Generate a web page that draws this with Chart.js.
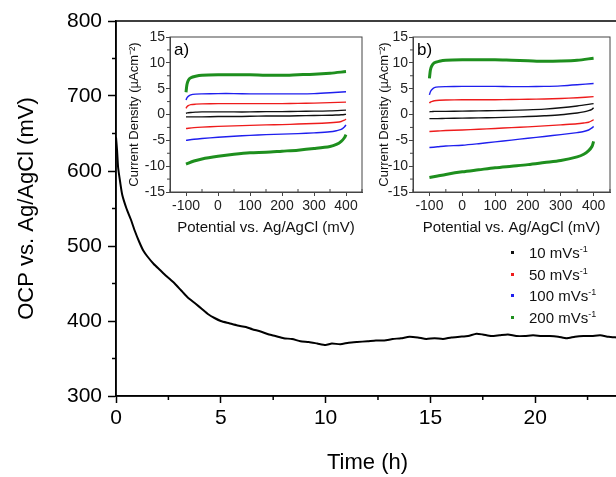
<!DOCTYPE html>
<html>
<head>
<meta charset="utf-8">
<script src="https://cdn.jsdelivr.net/npm/chart.js@4.4.1/dist/chart.umd.min.js"></script>
<style>
  html, body { margin: 0; padding: 0; background: #fff; overflow: hidden; width: 616px; height: 477px; }
  canvas { position: absolute; }
  #main { left: 0; top: 0; }
  #insetA { left: 120px; top: 20px; }
  #insetB { left: 370px; top: 20px; }
  .legend { position: absolute; left: 506px; top: 242px; font: 15px "Liberation Sans", Arial, sans-serif; color: #111; }
  .legend div { height: 21.7px; line-height: 21.7px; white-space: nowrap; }
  .legend span.m { display: inline-block; width: 3px; height: 3px; margin: 0 15px 3px 5px; vertical-align: middle; }
  .legend sup { font-size: 9px; vertical-align: 6px; line-height: 0; }
</style>
</head>
<body>
<canvas id="main" width="640" height="477"></canvas>
<canvas id="insetA" width="250" height="220"></canvas>
<canvas id="insetB" width="246" height="220"></canvas>
<div class="legend" id="legend"></div>
<script>
// main OCP curve
const hours = [0, 0.05, 0.1, 0.2, 0.3, 0.5, 0.7, 0.9, 1.1, 1.3, 1.5, 1.8, 2.1, 2.4, 2.8, 3.1, 3.4, 3.8, 4.1, 4.4, 4.7, 5.0, 5.4, 5.8, 6.2, 6.5, 6.9, 7.3, 7.6, 8.0, 8.4, 8.8, 9.2, 9.6, 10.0, 10.3, 10.7, 11.1, 11.5, 12.0, 12.4, 12.8, 13.2, 13.6, 14.0, 14.4, 14.8, 15.2, 15.6, 16.0, 16.4, 16.8, 17.2, 17.5, 17.9, 18.3, 18.7, 19.1, 19.5, 19.9, 20.3, 20.7, 21.1, 21.5, 21.9, 22.3, 22.7, 23.1, 23.5, 23.9]
const ocp = [645, 628, 605, 585, 568, 550, 536, 520, 506, 494, 486, 476, 468, 460, 450, 441, 432, 423, 416, 409, 404, 400, 397, 394, 392, 389, 386, 382, 380, 377, 376, 373, 372, 370, 368, 370, 369, 371, 372, 373, 374, 374, 376, 377, 379, 378, 376, 377, 376, 378, 379, 380, 383, 382, 380, 381, 382, 380, 380, 381, 380, 380, 379, 377, 379, 380, 380, 381, 379, 378]
const hourTicks = [0, 5, 10, 15, 20]
const ocpTicks = [300, 400, 500, 600, 700, 800]

// inset CV branches (potential in mV, current density in uA/cm2)
const upperPot = [-100, -97, -93, -85, -70, -50, 0, 50, 100, 150, 200, 250, 300, 350, 400]
const lowerPot = [-100, -75, -50, 0, 50, 100, 150, 200, 250, 300, 350, 370, 385, 395, 400]
const potTicks = [-100, 0, 100, 200, 300, 400]
const cdTicks = [-15, -10, -5, 0, 5, 10, 15]
const rates = ['10 mVs', '50 mVs', '100 mVs', '200 mVs']
const rateColors = ['#111111', '#ee1c1c', '#1f1fee', '#1e8f1e']

const aUpper = [
  [0.2, 0.3, 0.35, 0.4, 0.45, 0.5, 0.5, 0.5, 0.5, 0.55, 0.55, 0.6, 0.65, 0.7, 0.85],
  [1.2, 1.5, 1.7, 1.9, 2.0, 2.05, 2.1, 2.1, 2.1, 2.1, 2.1, 2.15, 2.2, 2.3, 2.4],
  [2.8, 3.2, 3.5, 3.8, 3.95, 4.0, 4.05, 4.05, 4.0, 4.0, 4.0, 4.0, 4.05, 4.2, 4.4],
  [4.3, 5.8, 6.6, 7.1, 7.4, 7.6, 7.7, 7.7, 7.7, 7.6, 7.6, 7.7, 7.8, 8.0, 8.3]
]
const aLower = [
  [-0.45, -0.45, -0.45, -0.4, -0.4, -0.35, -0.3, -0.3, -0.25, -0.2, -0.15, -0.1, -0.05, 0, 0.05],
  [-2.7, -2.55, -2.45, -2.3, -2.2, -2.1, -2.0, -1.95, -1.85, -1.75, -1.6, -1.5, -1.35, -1.1, -0.9],
  [-5.0, -4.8, -4.65, -4.4, -4.2, -4.05, -3.9, -3.8, -3.7, -3.55, -3.35, -3.15, -2.9, -2.4, -2.0],
  [-9.6, -9.0, -8.6, -8.1, -7.7, -7.4, -7.3, -7.1, -6.9, -6.6, -6.2, -5.8, -5.2, -4.5, -3.9]
]
const bUpper = [
  [0.5, 0.55, 0.55, 0.6, 0.6, 0.6, 0.65, 0.7, 0.75, 0.8, 0.9, 1.05, 1.3, 1.65, 2.1],
  [2.2, 2.4, 2.5, 2.65, 2.75, 2.8, 2.85, 2.85, 2.85, 2.9, 2.95, 3.0, 3.1, 3.25, 3.45],
  [3.8, 4.4, 4.8, 5.2, 5.35, 5.4, 5.45, 5.45, 5.45, 5.4, 5.4, 5.45, 5.55, 5.75, 6.0],
  [7.0, 8.6, 9.4, 10.0, 10.3, 10.5, 10.6, 10.6, 10.6, 10.5, 10.4, 10.3, 10.35, 10.5, 10.9]
]
const bLower = [
  [-0.8, -0.8, -0.75, -0.7, -0.65, -0.6, -0.5, -0.4, -0.25, -0.05, 0.3, 0.5, 0.75, 1.0, 1.3],
  [-3.3, -3.2, -3.1, -3.0, -2.85, -2.7, -2.55, -2.4, -2.2, -2.0, -1.8, -1.65, -1.5, -1.2, -1.0],
  [-6.4, -6.25, -6.1, -5.95, -5.65, -5.3, -4.95, -4.6, -4.25, -3.9, -3.5, -3.3, -3.0, -2.6, -2.3],
  [-12.2, -11.9, -11.6, -11.1, -10.7, -10.3, -10.0, -9.7, -9.3, -8.9, -8.2, -7.7, -7.0, -6.2, -5.2]
]

const FONT = '"Liberation Sans", Arial, sans-serif'
const pts = (xs, ys) => xs.map((x, i) => ({ x, y: ys[i] }))
const useTicks = vals => s => { s.ticks = vals.map(value => ({ value })) }

// minor ticks + frame
const frame = {
  id: 'frame',
  afterDraw(chart, args, o) {
    const ctx = chart.ctx, a = chart.chartArea
    ctx.save()
    ctx.strokeStyle = o.color
    ctx.lineWidth = o.width
    for (const [id, step] of Object.entries(o.minor)) {
      const s = chart.scales[id]
      for (let v = Math.ceil(s.min / step) * step; v <= s.max + 1e-9; v += step) {
        if (s.ticks.some(t => Math.abs(t.value - v) < 1e-9)) continue
        const p = s.getPixelForValue(v)
        ctx.beginPath()
        if (s.isHorizontal()) {
          ctx.moveTo(p, a.bottom)
          ctx.lineTo(p, a.bottom + (o.inX ? -o.len : o.len))
        } else {
          ctx.moveTo(a.left, p)
          ctx.lineTo(a.left - o.len, p)
        }
        ctx.stroke()
      }
    }
    ctx.strokeRect(a.left, a.top, a.right - a.left, a.bottom - a.top)
    ctx.restore()
  }
}

new Chart(document.getElementById('main'), {
  type: 'scatter',
  data: { datasets: [{ data: pts(hours, ocp), showLine: true, borderColor: '#000', borderWidth: 2, pointRadius: 0, tension: 0.2 }] },
  options: {
    responsive: false, animation: false,
    layout: { padding: { top: 21, right: 21, left: 0, bottom: 0 } },
    plugins: { legend: { display: false }, tooltip: { enabled: false },
      frame: { color: '#000', width: 1.5, len: 4, minor: { x: 2.5, y: 50 } } },
    scales: {
      x: { min: 0, max: 24, afterBuildTicks: useTicks(hourTicks), afterFit: s => { s.height = 81 },
        ticks: { color: '#000', padding: 3, maxRotation: 0, autoSkip: false, font: { size: 21, family: FONT } },
        grid: { drawOnChartArea: false, tickLength: 7, tickColor: '#000', tickWidth: 1.5 },
        border: { color: '#000', width: 1.5 },
        title: { display: true, text: 'Time (h)', color: '#000', font: { size: 22, family: FONT }, padding: { top: 0, bottom: 1 } } },
      y: { min: 300, max: 800, afterBuildTicks: useTicks(ocpTicks), afterFit: s => { s.width = 116 },
        ticks: { color: '#000', padding: 6, autoSkip: false, font: { size: 21, family: FONT } },
        grid: { drawOnChartArea: false, tickLength: 8, tickColor: '#000', tickWidth: 1.5 },
        border: { color: '#000', width: 1.5 },
        title: { display: true, text: 'OCP vs. Ag/AgCl (mV)', color: '#000', font: { size: 22, family: FONT }, padding: { top: 14, bottom: 0 } } }
    }
  },
  plugins: [frame]
})

function inset(id, upper, lower, tag, yWidth, rightPad) {
  const datasets = []
  upper.forEach((u, i) => {
    const w = i === 3 ? 3 : 1.4
    datasets.push({ data: pts(upperPot, u), showLine: true, borderColor: rateColors[i], borderWidth: w, pointRadius: 0, tension: 0.3 })
    datasets.push({ data: pts(lowerPot, lower[i]), showLine: true, borderColor: rateColors[i], borderWidth: w, pointRadius: 0, tension: 0.3 })
  })
  new Chart(document.getElementById(id), {
    type: 'scatter',
    data: { datasets },
    options: {
      responsive: false, animation: false,
      layout: { padding: { top: 17, right: rightPad, left: 0, bottom: 0 } },
      plugins: { legend: { display: false }, tooltip: { enabled: false },
        frame: { color: '#444', width: 1, len: 3, inX: true, minor: { x: 50, y: 2.5 } } },
      scales: {
        x: { min: -150, max: 450, afterBuildTicks: useTicks(potTicks), afterFit: s => { s.height = 48 },
          ticks: { color: '#222', padding: 2, maxRotation: 0, minRotation: 0, autoSkip: false, font: { size: 14, family: FONT } },
          grid: { drawOnChartArea: false, tickLength: 4, tickColor: '#444' },
          border: { color: '#444', width: 1 },
          title: { display: true, text: 'Potential vs. Ag/AgCl (mV)', color: '#111', font: { size: 15, family: FONT }, padding: { top: 0, bottom: 3 } } },
        y: { min: -15, max: 15, afterBuildTicks: useTicks(cdTicks), afterFit: s => { s.width = yWidth },
          ticks: { color: '#222', padding: 1, autoSkip: false, font: { size: 14, family: FONT } },
          grid: { drawOnChartArea: false, tickLength: 4, tickColor: '#444' },
          border: { color: '#444', width: 1 },
          title: { display: true, text: 'Current Density (\u00b5Acm\u207b\u00b2)', color: '#111', font: { size: 13, family: FONT }, padding: { top: 7, bottom: 0 } } }
      }
    },
    plugins: [frame, {
      id: 'tag',
      afterDraw(chart) {
        const ctx = chart.ctx, a = chart.chartArea
        ctx.save()
        ctx.font = '17px ' + FONT
        ctx.fillStyle = '#000'
        ctx.textBaseline = 'top'
        ctx.fillText(tag, a.left + 4, a.top + 5)
        ctx.restore()
      }
    }]
  })
}

inset('insetA', aUpper, aLower, 'a)', 50, 8)
inset('insetB', bUpper, bLower, 'b)', 43, 6)

document.getElementById('legend').innerHTML = rates.map((r, i) =>
  '<div><span class="m" style="background:' + rateColors[i] + '"></span>' + r + '<sup>-1</sup></div>').join('')
</script>
</body>
</html>
